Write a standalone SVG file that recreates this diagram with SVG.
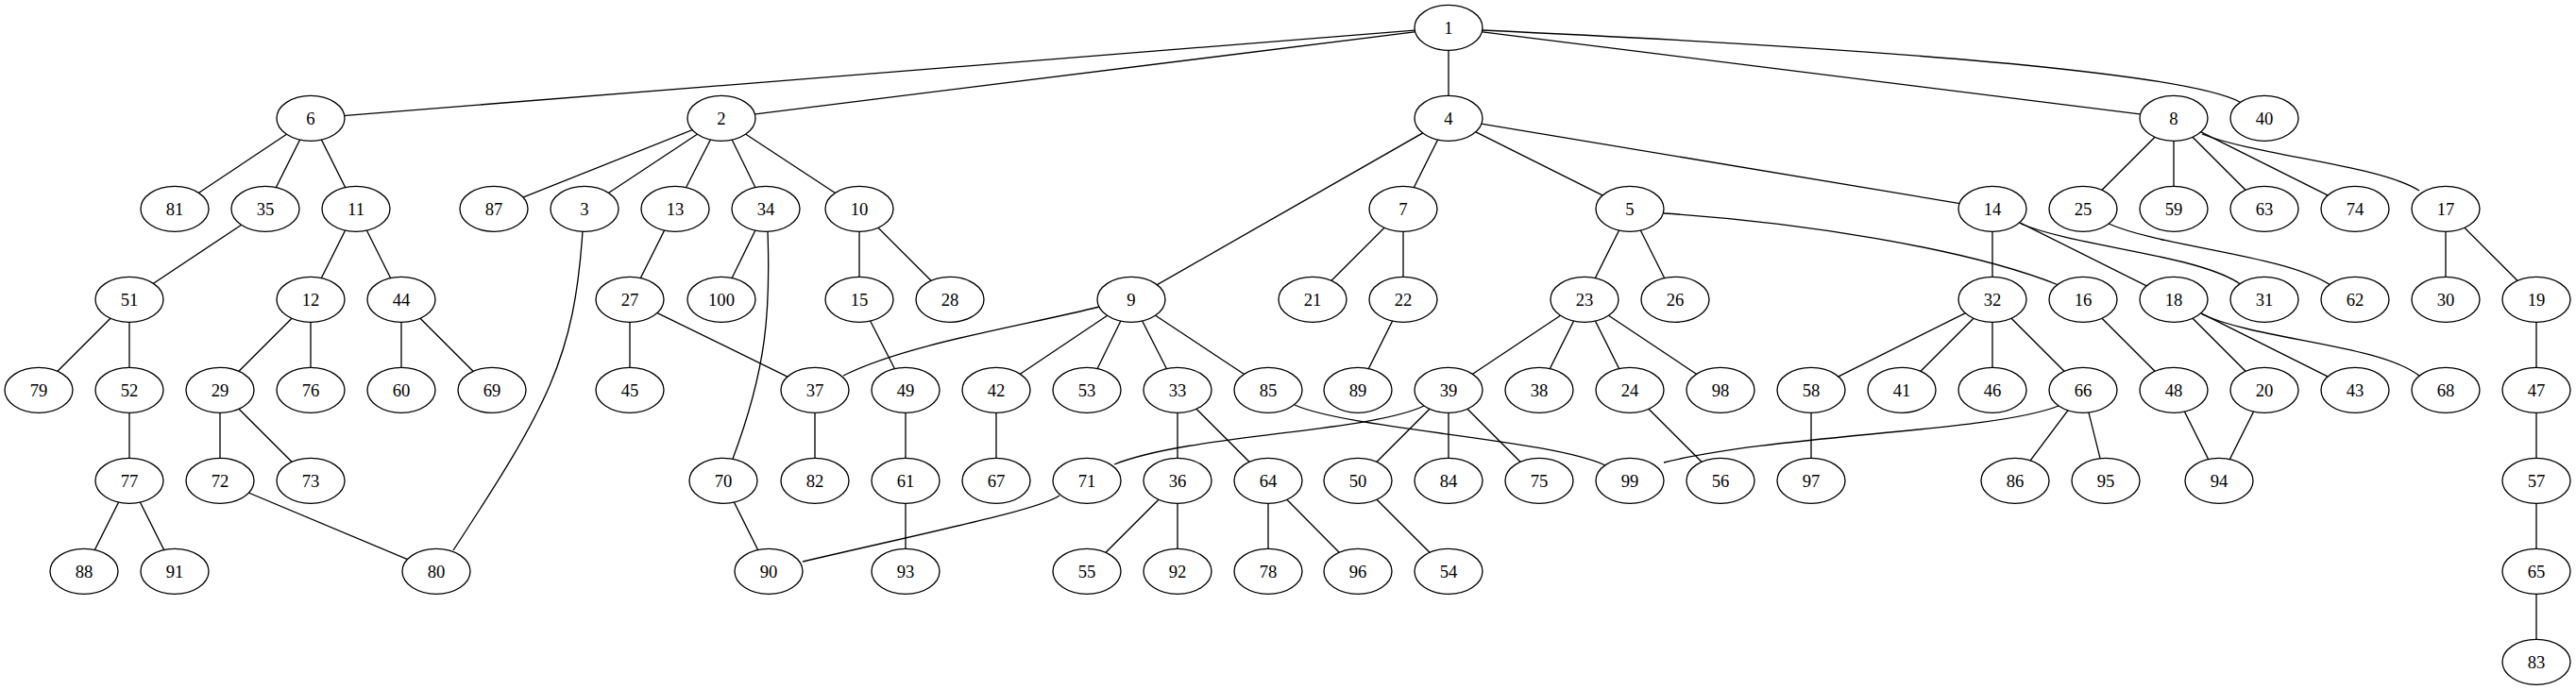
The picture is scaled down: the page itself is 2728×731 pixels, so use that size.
<svg xmlns="http://www.w3.org/2000/svg" width="2728" height="731" viewBox="0 0 2728 731">
<style>
#edges path{fill:none;stroke:#000;stroke-width:1.33}
.n ellipse{fill:#fff;stroke:#000;stroke-width:1.33}
.n text{font-family:"Liberation Serif","Times New Roman",serif;font-size:18.67px;text-anchor:middle;fill:#000}
</style>
<rect width="2728" height="731" fill="#fff"/>
<g id="edges">
<path d="M1534 29.3L329 125.3"/>
<path d="M1534 29.3L764 125.3"/>
<path d="M1534 29.3L1534 125.3"/>
<path d="M1534 29.3L2302 125.3"/>
<path d="M1570 32C1850 45 2300 70 2372 108"/>
<path d="M329 125.3L185 221.3"/>
<path d="M329 125.3L281 221.3"/>
<path d="M329 125.3L377 221.3"/>
<path d="M764 125.3L523 221.3"/>
<path d="M764 125.3L619 221.3"/>
<path d="M764 125.3L715 221.3"/>
<path d="M764 125.3L811 221.3"/>
<path d="M764 125.3L910 221.3"/>
<path d="M1534 125.3L1198 317.3"/>
<path d="M1534 125.3L1486 221.3"/>
<path d="M1534 125.3L1726 221.3"/>
<path d="M1534 125.3L2110 221.3"/>
<path d="M2302 125.3L2206 221.3"/>
<path d="M2302 125.3L2302 221.3"/>
<path d="M2302 125.3L2398 221.3"/>
<path d="M2302 125.3L2494 221.3"/>
<path d="M2332 142C2390 165 2520 175 2562 202"/>
<path d="M281 221.3L137 317.3"/>
<path d="M377 221.3L329 317.3"/>
<path d="M377 221.3L425 317.3"/>
<path d="M617 245C608 380 580 430 480 583"/>
<path d="M715 221.3L667 317.3"/>
<path d="M811 221.3L764 317.3"/>
<path d="M813 245C816 330 812 390 776 486"/>
<path d="M910 221.3L910 317.3"/>
<path d="M910 221.3L1006 317.3"/>
<path d="M1486 221.3L1390 317.3"/>
<path d="M1486 221.3L1486 317.3"/>
<path d="M1726 221.3L1678 317.3"/>
<path d="M1726 221.3L1774 317.3"/>
<path d="M1762 226C1900 235 2080 262 2180 302"/>
<path d="M2110 221.3L2110 317.3"/>
<path d="M2110 221.3L2302 317.3"/>
<path d="M2140 237C2200 262 2330 270 2374 302"/>
<path d="M2233 237C2290 262 2420 270 2468 302"/>
<path d="M2590 221.3L2590 317.3"/>
<path d="M2590 221.3L2686 317.3"/>
<path d="M137 317.3L41 413.3"/>
<path d="M137 317.3L137 413.3"/>
<path d="M329 317.3L233 413.3"/>
<path d="M329 317.3L329 413.3"/>
<path d="M425 317.3L425 413.3"/>
<path d="M425 317.3L521 413.3"/>
<path d="M667 317.3L667 413.3"/>
<path d="M667 317.3L863 413.3"/>
<path d="M910 317.3L959 413.3"/>
<path d="M1164 325C1090 344 960 364 893 398"/>
<path d="M1198 317.3L1055 413.3"/>
<path d="M1198 317.3L1151 413.3"/>
<path d="M1198 317.3L1247 413.3"/>
<path d="M1198 317.3L1343 413.3"/>
<path d="M1486 317.3L1438 413.3"/>
<path d="M1678 317.3L1534 413.3"/>
<path d="M1678 317.3L1630 413.3"/>
<path d="M1678 317.3L1726 413.3"/>
<path d="M1678 317.3L1822 413.3"/>
<path d="M2110 317.3L1918 413.3"/>
<path d="M2110 317.3L2014 413.3"/>
<path d="M2110 317.3L2110 413.3"/>
<path d="M2110 317.3L2206 413.3"/>
<path d="M2206 317.3L2302 413.3"/>
<path d="M2302 317.3L2398 413.3"/>
<path d="M2302 317.3L2494 413.3"/>
<path d="M2332 333C2390 360 2520 365 2562 398"/>
<path d="M2686 317.3L2686 413.3"/>
<path d="M137 413.3L137 509.3"/>
<path d="M233 413.3L233 509.3"/>
<path d="M233 413.3L329 509.3"/>
<path d="M863 413.3L863 509.3"/>
<path d="M959 413.3L959 509.3"/>
<path d="M1055 413.3L1055 509.3"/>
<path d="M1247 413.3L1247 509.3"/>
<path d="M1247 413.3L1343 509.3"/>
<path d="M1371 429C1430 455 1640 465 1700 493"/>
<path d="M1508 430C1450 458 1260 460 1180 492"/>
<path d="M1534 413.3L1438 509.3"/>
<path d="M1534 413.3L1534 509.3"/>
<path d="M1534 413.3L1630 509.3"/>
<path d="M1726 413.3L1822 509.3"/>
<path d="M1918 413.3L1918 509.3"/>
<path d="M2180 430C2110 458 1880 460 1762 490"/>
<path d="M2206 413.3L2134 509.3"/>
<path d="M2206 413.3L2230 509.3"/>
<path d="M2302 413.3L2350 509.3"/>
<path d="M2398 413.3L2350 509.3"/>
<path d="M2686 413.3L2686 509.3"/>
<path d="M137 509.3L89 605.3"/>
<path d="M137 509.3L185 605.3"/>
<path d="M233 509.3L462 605.3"/>
<path d="M766 509.3L814 605.3"/>
<path d="M959 509.3L959 605.3"/>
<path d="M1122 525C1100 540 1000 560 850 595"/>
<path d="M1247 509.3L1151 605.3"/>
<path d="M1247 509.3L1247 605.3"/>
<path d="M1343 509.3L1343 605.3"/>
<path d="M1343 509.3L1438 605.3"/>
<path d="M1438 509.3L1534 605.3"/>
<path d="M2686 509.3L2686 605.3"/>
<path d="M2686 605.3L2686 701.3"/>
</g>
<g id="nodes">
<g id="n1" class="n"><ellipse cx="1534" cy="29.3" rx="36" ry="24"/><text x="1534" y="35.8">1</text></g>
<g id="n6" class="n"><ellipse cx="329" cy="125.3" rx="36" ry="24"/><text x="329" y="131.8">6</text></g>
<g id="n2" class="n"><ellipse cx="764" cy="125.3" rx="36" ry="24"/><text x="764" y="131.8">2</text></g>
<g id="n4" class="n"><ellipse cx="1534" cy="125.3" rx="36" ry="24"/><text x="1534" y="131.8">4</text></g>
<g id="n8" class="n"><ellipse cx="2302" cy="125.3" rx="36" ry="24"/><text x="2302" y="131.8">8</text></g>
<g id="n40" class="n"><ellipse cx="2398" cy="125.3" rx="36" ry="24"/><text x="2398" y="131.8">40</text></g>
<g id="n81" class="n"><ellipse cx="185" cy="221.3" rx="36" ry="24"/><text x="185" y="227.8">81</text></g>
<g id="n35" class="n"><ellipse cx="281" cy="221.3" rx="36" ry="24"/><text x="281" y="227.8">35</text></g>
<g id="n11" class="n"><ellipse cx="377" cy="221.3" rx="36" ry="24"/><text x="377" y="227.8">11</text></g>
<g id="n87" class="n"><ellipse cx="523" cy="221.3" rx="36" ry="24"/><text x="523" y="227.8">87</text></g>
<g id="n3" class="n"><ellipse cx="619" cy="221.3" rx="36" ry="24"/><text x="619" y="227.8">3</text></g>
<g id="n13" class="n"><ellipse cx="715" cy="221.3" rx="36" ry="24"/><text x="715" y="227.8">13</text></g>
<g id="n34" class="n"><ellipse cx="811" cy="221.3" rx="36" ry="24"/><text x="811" y="227.8">34</text></g>
<g id="n10" class="n"><ellipse cx="910" cy="221.3" rx="36" ry="24"/><text x="910" y="227.8">10</text></g>
<g id="n7" class="n"><ellipse cx="1486" cy="221.3" rx="36" ry="24"/><text x="1486" y="227.8">7</text></g>
<g id="n5" class="n"><ellipse cx="1726" cy="221.3" rx="36" ry="24"/><text x="1726" y="227.8">5</text></g>
<g id="n14" class="n"><ellipse cx="2110" cy="221.3" rx="36" ry="24"/><text x="2110" y="227.8">14</text></g>
<g id="n25" class="n"><ellipse cx="2206" cy="221.3" rx="36" ry="24"/><text x="2206" y="227.8">25</text></g>
<g id="n59" class="n"><ellipse cx="2302" cy="221.3" rx="36" ry="24"/><text x="2302" y="227.8">59</text></g>
<g id="n63" class="n"><ellipse cx="2398" cy="221.3" rx="36" ry="24"/><text x="2398" y="227.8">63</text></g>
<g id="n74" class="n"><ellipse cx="2494" cy="221.3" rx="36" ry="24"/><text x="2494" y="227.8">74</text></g>
<g id="n17" class="n"><ellipse cx="2590" cy="221.3" rx="36" ry="24"/><text x="2590" y="227.8">17</text></g>
<g id="n51" class="n"><ellipse cx="137" cy="317.3" rx="36" ry="24"/><text x="137" y="323.8">51</text></g>
<g id="n12" class="n"><ellipse cx="329" cy="317.3" rx="36" ry="24"/><text x="329" y="323.8">12</text></g>
<g id="n44" class="n"><ellipse cx="425" cy="317.3" rx="36" ry="24"/><text x="425" y="323.8">44</text></g>
<g id="n27" class="n"><ellipse cx="667" cy="317.3" rx="36" ry="24"/><text x="667" y="323.8">27</text></g>
<g id="n100" class="n"><ellipse cx="764" cy="317.3" rx="36" ry="24"/><text x="764" y="323.8">100</text></g>
<g id="n15" class="n"><ellipse cx="910" cy="317.3" rx="36" ry="24"/><text x="910" y="323.8">15</text></g>
<g id="n28" class="n"><ellipse cx="1006" cy="317.3" rx="36" ry="24"/><text x="1006" y="323.8">28</text></g>
<g id="n9" class="n"><ellipse cx="1198" cy="317.3" rx="36" ry="24"/><text x="1198" y="323.8">9</text></g>
<g id="n21" class="n"><ellipse cx="1390" cy="317.3" rx="36" ry="24"/><text x="1390" y="323.8">21</text></g>
<g id="n22" class="n"><ellipse cx="1486" cy="317.3" rx="36" ry="24"/><text x="1486" y="323.8">22</text></g>
<g id="n23" class="n"><ellipse cx="1678" cy="317.3" rx="36" ry="24"/><text x="1678" y="323.8">23</text></g>
<g id="n26" class="n"><ellipse cx="1774" cy="317.3" rx="36" ry="24"/><text x="1774" y="323.8">26</text></g>
<g id="n32" class="n"><ellipse cx="2110" cy="317.3" rx="36" ry="24"/><text x="2110" y="323.8">32</text></g>
<g id="n16" class="n"><ellipse cx="2206" cy="317.3" rx="36" ry="24"/><text x="2206" y="323.8">16</text></g>
<g id="n18" class="n"><ellipse cx="2302" cy="317.3" rx="36" ry="24"/><text x="2302" y="323.8">18</text></g>
<g id="n31" class="n"><ellipse cx="2398" cy="317.3" rx="36" ry="24"/><text x="2398" y="323.8">31</text></g>
<g id="n62" class="n"><ellipse cx="2494" cy="317.3" rx="36" ry="24"/><text x="2494" y="323.8">62</text></g>
<g id="n30" class="n"><ellipse cx="2590" cy="317.3" rx="36" ry="24"/><text x="2590" y="323.8">30</text></g>
<g id="n19" class="n"><ellipse cx="2686" cy="317.3" rx="36" ry="24"/><text x="2686" y="323.8">19</text></g>
<g id="n79" class="n"><ellipse cx="41" cy="413.3" rx="36" ry="24"/><text x="41" y="419.8">79</text></g>
<g id="n52" class="n"><ellipse cx="137" cy="413.3" rx="36" ry="24"/><text x="137" y="419.8">52</text></g>
<g id="n29" class="n"><ellipse cx="233" cy="413.3" rx="36" ry="24"/><text x="233" y="419.8">29</text></g>
<g id="n76" class="n"><ellipse cx="329" cy="413.3" rx="36" ry="24"/><text x="329" y="419.8">76</text></g>
<g id="n60" class="n"><ellipse cx="425" cy="413.3" rx="36" ry="24"/><text x="425" y="419.8">60</text></g>
<g id="n69" class="n"><ellipse cx="521" cy="413.3" rx="36" ry="24"/><text x="521" y="419.8">69</text></g>
<g id="n45" class="n"><ellipse cx="667" cy="413.3" rx="36" ry="24"/><text x="667" y="419.8">45</text></g>
<g id="n37" class="n"><ellipse cx="863" cy="413.3" rx="36" ry="24"/><text x="863" y="419.8">37</text></g>
<g id="n49" class="n"><ellipse cx="959" cy="413.3" rx="36" ry="24"/><text x="959" y="419.8">49</text></g>
<g id="n42" class="n"><ellipse cx="1055" cy="413.3" rx="36" ry="24"/><text x="1055" y="419.8">42</text></g>
<g id="n53" class="n"><ellipse cx="1151" cy="413.3" rx="36" ry="24"/><text x="1151" y="419.8">53</text></g>
<g id="n33" class="n"><ellipse cx="1247" cy="413.3" rx="36" ry="24"/><text x="1247" y="419.8">33</text></g>
<g id="n85" class="n"><ellipse cx="1343" cy="413.3" rx="36" ry="24"/><text x="1343" y="419.8">85</text></g>
<g id="n89" class="n"><ellipse cx="1438" cy="413.3" rx="36" ry="24"/><text x="1438" y="419.8">89</text></g>
<g id="n39" class="n"><ellipse cx="1534" cy="413.3" rx="36" ry="24"/><text x="1534" y="419.8">39</text></g>
<g id="n38" class="n"><ellipse cx="1630" cy="413.3" rx="36" ry="24"/><text x="1630" y="419.8">38</text></g>
<g id="n24" class="n"><ellipse cx="1726" cy="413.3" rx="36" ry="24"/><text x="1726" y="419.8">24</text></g>
<g id="n98" class="n"><ellipse cx="1822" cy="413.3" rx="36" ry="24"/><text x="1822" y="419.8">98</text></g>
<g id="n58" class="n"><ellipse cx="1918" cy="413.3" rx="36" ry="24"/><text x="1918" y="419.8">58</text></g>
<g id="n41" class="n"><ellipse cx="2014" cy="413.3" rx="36" ry="24"/><text x="2014" y="419.8">41</text></g>
<g id="n46" class="n"><ellipse cx="2110" cy="413.3" rx="36" ry="24"/><text x="2110" y="419.8">46</text></g>
<g id="n66" class="n"><ellipse cx="2206" cy="413.3" rx="36" ry="24"/><text x="2206" y="419.8">66</text></g>
<g id="n48" class="n"><ellipse cx="2302" cy="413.3" rx="36" ry="24"/><text x="2302" y="419.8">48</text></g>
<g id="n20" class="n"><ellipse cx="2398" cy="413.3" rx="36" ry="24"/><text x="2398" y="419.8">20</text></g>
<g id="n43" class="n"><ellipse cx="2494" cy="413.3" rx="36" ry="24"/><text x="2494" y="419.8">43</text></g>
<g id="n68" class="n"><ellipse cx="2590" cy="413.3" rx="36" ry="24"/><text x="2590" y="419.8">68</text></g>
<g id="n47" class="n"><ellipse cx="2686" cy="413.3" rx="36" ry="24"/><text x="2686" y="419.8">47</text></g>
<g id="n77" class="n"><ellipse cx="137" cy="509.3" rx="36" ry="24"/><text x="137" y="515.8">77</text></g>
<g id="n72" class="n"><ellipse cx="233" cy="509.3" rx="36" ry="24"/><text x="233" y="515.8">72</text></g>
<g id="n73" class="n"><ellipse cx="329" cy="509.3" rx="36" ry="24"/><text x="329" y="515.8">73</text></g>
<g id="n70" class="n"><ellipse cx="766" cy="509.3" rx="36" ry="24"/><text x="766" y="515.8">70</text></g>
<g id="n82" class="n"><ellipse cx="863" cy="509.3" rx="36" ry="24"/><text x="863" y="515.8">82</text></g>
<g id="n61" class="n"><ellipse cx="959" cy="509.3" rx="36" ry="24"/><text x="959" y="515.8">61</text></g>
<g id="n67" class="n"><ellipse cx="1055" cy="509.3" rx="36" ry="24"/><text x="1055" y="515.8">67</text></g>
<g id="n71" class="n"><ellipse cx="1151" cy="509.3" rx="36" ry="24"/><text x="1151" y="515.8">71</text></g>
<g id="n36" class="n"><ellipse cx="1247" cy="509.3" rx="36" ry="24"/><text x="1247" y="515.8">36</text></g>
<g id="n64" class="n"><ellipse cx="1343" cy="509.3" rx="36" ry="24"/><text x="1343" y="515.8">64</text></g>
<g id="n50" class="n"><ellipse cx="1438" cy="509.3" rx="36" ry="24"/><text x="1438" y="515.8">50</text></g>
<g id="n84" class="n"><ellipse cx="1534" cy="509.3" rx="36" ry="24"/><text x="1534" y="515.8">84</text></g>
<g id="n75" class="n"><ellipse cx="1630" cy="509.3" rx="36" ry="24"/><text x="1630" y="515.8">75</text></g>
<g id="n99" class="n"><ellipse cx="1726" cy="509.3" rx="36" ry="24"/><text x="1726" y="515.8">99</text></g>
<g id="n56" class="n"><ellipse cx="1822" cy="509.3" rx="36" ry="24"/><text x="1822" y="515.8">56</text></g>
<g id="n97" class="n"><ellipse cx="1918" cy="509.3" rx="36" ry="24"/><text x="1918" y="515.8">97</text></g>
<g id="n86" class="n"><ellipse cx="2134" cy="509.3" rx="36" ry="24"/><text x="2134" y="515.8">86</text></g>
<g id="n95" class="n"><ellipse cx="2230" cy="509.3" rx="36" ry="24"/><text x="2230" y="515.8">95</text></g>
<g id="n94" class="n"><ellipse cx="2350" cy="509.3" rx="36" ry="24"/><text x="2350" y="515.8">94</text></g>
<g id="n57" class="n"><ellipse cx="2686" cy="509.3" rx="36" ry="24"/><text x="2686" y="515.8">57</text></g>
<g id="n88" class="n"><ellipse cx="89" cy="605.3" rx="36" ry="24"/><text x="89" y="611.8">88</text></g>
<g id="n91" class="n"><ellipse cx="185" cy="605.3" rx="36" ry="24"/><text x="185" y="611.8">91</text></g>
<g id="n80" class="n"><ellipse cx="462" cy="605.3" rx="36" ry="24"/><text x="462" y="611.8">80</text></g>
<g id="n90" class="n"><ellipse cx="814" cy="605.3" rx="36" ry="24"/><text x="814" y="611.8">90</text></g>
<g id="n93" class="n"><ellipse cx="959" cy="605.3" rx="36" ry="24"/><text x="959" y="611.8">93</text></g>
<g id="n55" class="n"><ellipse cx="1151" cy="605.3" rx="36" ry="24"/><text x="1151" y="611.8">55</text></g>
<g id="n92" class="n"><ellipse cx="1247" cy="605.3" rx="36" ry="24"/><text x="1247" y="611.8">92</text></g>
<g id="n78" class="n"><ellipse cx="1343" cy="605.3" rx="36" ry="24"/><text x="1343" y="611.8">78</text></g>
<g id="n96" class="n"><ellipse cx="1438" cy="605.3" rx="36" ry="24"/><text x="1438" y="611.8">96</text></g>
<g id="n54" class="n"><ellipse cx="1534" cy="605.3" rx="36" ry="24"/><text x="1534" y="611.8">54</text></g>
<g id="n65" class="n"><ellipse cx="2686" cy="605.3" rx="36" ry="24"/><text x="2686" y="611.8">65</text></g>
<g id="n83" class="n"><ellipse cx="2686" cy="701.3" rx="36" ry="24"/><text x="2686" y="707.8">83</text></g>
</g>
</svg>
